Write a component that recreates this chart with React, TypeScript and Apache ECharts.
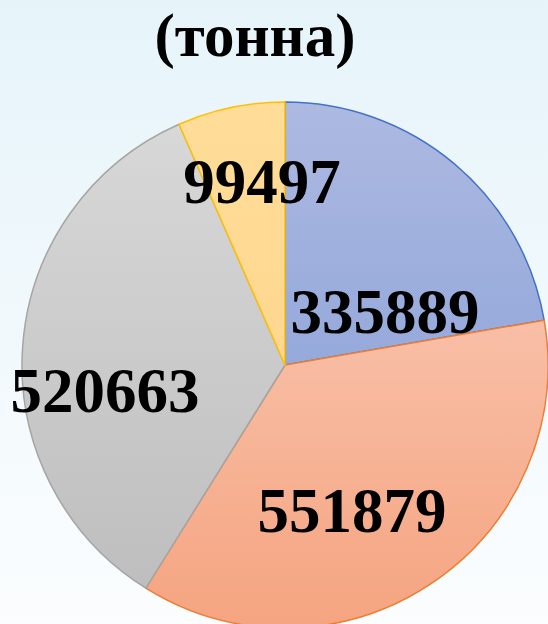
import React, { useEffect, useRef } from "react";
import * as echarts from "echarts";

const TITLE = "(тонна)";
const CATEGORIES = ["A", "B", "C", "D"];
const VALUES = [335889, 551879, 520663, 99497];
const FILL_TOP = ["#adb9e1", "#fad2c2", "#d9d9d9", "#ffdd98"];
const FILL_BOTTOM = ["#7d99d5", "#f5a480", "#bcbcbc", "#fdd187"];
const BORDERS = ["#4472c4", "#ed7d31", "#a5a5a5", "#ffc000"];
const LABEL_POS = [
  [385, 312],
  [352, 511],
  [105, 391],
  [262, 182],
];

export default function App() {
  const ref = useRef<HTMLDivElement>(null);
  useEffect(() => {
    if (!ref.current) return;
    const chart = echarts.init(ref.current, undefined, { renderer: "svg" });
    const cx = 285;
    const cy = 365;
    const r = 263;
    chart.setOption({
      animation: false,
      backgroundColor: new echarts.graphic.LinearGradient(0, 0, 0, 1, [
        { offset: 0, color: "#e6f4fa" },
        { offset: 1, color: "#fbfdfe" },
      ]),
      title: {
        text: TITLE,
        left: 250,
        top: 0,
        textAlign: "center",
        textStyle: {
          fontFamily: "Liberation Serif",
          fontWeight: "bold",
          fontSize: 61,
          color: "#000",
        },
      },
      series: [
        {
          type: "pie",
          center: [cx, cy],
          radius: [0, r],
          startAngle: 90,
          clockwise: true,
          silent: true,
          data: VALUES.map((v, i) => ({
            name: CATEGORIES[i],
            value: v,
            itemStyle: {
              color: new echarts.graphic.LinearGradient(
                0,
                cy - r,
                0,
                cy + r,
                [
                  { offset: 0, color: FILL_TOP[i] },
                  { offset: 1, color: FILL_BOTTOM[i] },
                ],
                true
              ),
              borderColor: BORDERS[i],
              borderWidth: 1.5,
            },
          })),
          label: {
            show: true,
            position: "inside",
            formatter: (p: any) => String(p.value),
            fontFamily: "Liberation Serif",
            fontWeight: "bold",
            fontSize: 63,
            color: "#000",
          },
          labelLine: { show: false },
          labelLayout: (p: any) => ({
            x: LABEL_POS[p.dataIndex][0],
            y: LABEL_POS[p.dataIndex][1],
            align: "center",
            verticalAlign: "middle",
          }),
        },
      ],
    });
    return () => chart.dispose();
  }, []);
  return (
    <div
      ref={ref}
      style={{ position: "absolute", left: 0, top: 0, width: 548, height: 624 }}
    />
  );
}
